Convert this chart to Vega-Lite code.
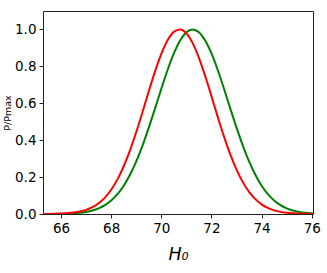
{
  "$schema": "https://vega.github.io/schema/vega-lite/v6.json",
  "autosize": {"type": "none"},
  "padding": {"left": 43, "top": 11, "right": 14, "bottom": 59},
  "width": 270,
  "height": 203,
  "config": {
    "view": {"stroke": "#222", "strokeWidth": 1},
    "axis": {
      "grid": false, "domain": false,
      "tickColor": "#222", "tickSize": 4, "tickWidth": 1,
      "labelFont": "DejaVu Sans", "labelFontSize": 13.5, "labelColor": "#000",
      "titleFont": "DejaVu Sans", "titleColor": "#000", "titleFontWeight": "normal"
    }
  },
  "datasets": {
    "curves": [
      {"x": 65.25, "p": 0.000133, "s": "green"}, {"x": 65.5, "p": 0.000275, "s": "green"}, {"x": 65.75, "p": 0.000553, "s": "green"}, {"x": 66.0, "p": 0.001077, "s": "green"}, {"x": 66.25, "p": 0.002032, "s": "green"}, {"x": 66.5, "p": 0.003717, "s": "green"}, {"x": 66.75, "p": 0.0066, "s": "green"}, {"x": 67.0, "p": 0.01135, "s": "green"}, {"x": 67.25, "p": 0.01892, "s": "green"}, {"x": 67.5, "p": 0.0306, "s": "green"}, {"x": 67.75, "p": 0.04795, "s": "green"}, {"x": 68.0, "p": 0.07287, "s": "green"}, {"x": 68.25, "p": 0.10735, "s": "green"}, {"x": 68.5, "p": 0.1533, "s": "green"}, {"x": 68.75, "p": 0.2123, "s": "green"}, {"x": 69.0, "p": 0.285, "s": "green"}, {"x": 69.25, "p": 0.3709, "s": "green"}, {"x": 69.5, "p": 0.4679, "s": "green"}, {"x": 69.75, "p": 0.5724, "s": "green"}, {"x": 70.0, "p": 0.6788, "s": "green"}, {"x": 70.25, "p": 0.7804, "s": "green"}, {"x": 70.5, "p": 0.8698, "s": "green"}, {"x": 70.75, "p": 0.9399, "s": "green"}, {"x": 71.0, "p": 0.9846, "s": "green"}, {"x": 71.25, "p": 1.0, "s": "green"}, {"x": 71.5, "p": 0.9846, "s": "green"}, {"x": 71.75, "p": 0.9399, "s": "green"}, {"x": 72.0, "p": 0.8698, "s": "green"}, {"x": 72.25, "p": 0.7804, "s": "green"}, {"x": 72.5, "p": 0.6788, "s": "green"}, {"x": 72.75, "p": 0.5724, "s": "green"}, {"x": 73.0, "p": 0.4679, "s": "green"}, {"x": 73.25, "p": 0.3709, "s": "green"}, {"x": 73.5, "p": 0.285, "s": "green"}, {"x": 73.75, "p": 0.2123, "s": "green"}, {"x": 74.0, "p": 0.1533, "s": "green"}, {"x": 74.25, "p": 0.10735, "s": "green"}, {"x": 74.5, "p": 0.07287, "s": "green"}, {"x": 74.75, "p": 0.04795, "s": "green"}, {"x": 75.0, "p": 0.0306, "s": "green"}, {"x": 75.25, "p": 0.01892, "s": "green"}, {"x": 75.5, "p": 0.01135, "s": "green"}, {"x": 75.75, "p": 0.0066, "s": "green"}, {"x": 76.0, "p": 0.003717, "s": "green"}, {"x": 76.25, "p": 0.002032, "s": "green"},
      {"x": 65.25, "p": 0.000272, "s": "red"}, {"x": 65.5, "p": 0.000567, "s": "red"}, {"x": 65.75, "p": 0.001141, "s": "red"}, {"x": 66.0, "p": 0.00222, "s": "red"}, {"x": 66.25, "p": 0.00416, "s": "red"}, {"x": 66.5, "p": 0.00755, "s": "red"}, {"x": 66.75, "p": 0.01324, "s": "red"}, {"x": 67.0, "p": 0.02244, "s": "red"}, {"x": 67.25, "p": 0.03676, "s": "red"}, {"x": 67.5, "p": 0.0581, "s": "red"}, {"x": 67.75, "p": 0.0889, "s": "red"}, {"x": 68.0, "p": 0.1313, "s": "red"}, {"x": 68.25, "p": 0.1875, "s": "red"}, {"x": 68.5, "p": 0.2587, "s": "red"}, {"x": 68.75, "p": 0.3448, "s": "red"}, {"x": 69.0, "p": 0.4441, "s": "red"}, {"x": 69.25, "p": 0.5527, "s": "red"}, {"x": 69.5, "p": 0.6648, "s": "red"}, {"x": 69.75, "p": 0.7725, "s": "red"}, {"x": 70.0, "p": 0.8674, "s": "red"}, {"x": 70.25, "p": 0.9412, "s": "red"}, {"x": 70.5, "p": 0.9868, "s": "red"}, {"x": 70.75, "p": 0.9998, "s": "red"}, {"x": 71.0, "p": 0.9787, "s": "red"}, {"x": 71.25, "p": 0.9258, "s": "red"}, {"x": 71.5, "p": 0.8463, "s": "red"}, {"x": 71.75, "p": 0.7475, "s": "red"}, {"x": 72.0, "p": 0.638, "s": "red"}, {"x": 72.25, "p": 0.5261, "s": "red"}, {"x": 72.5, "p": 0.4193, "s": "red"}, {"x": 72.75, "p": 0.3228, "s": "red"}, {"x": 73.0, "p": 0.2402, "s": "red"}, {"x": 73.25, "p": 0.1727, "s": "red"}, {"x": 73.5, "p": 0.12, "s": "red"}, {"x": 73.75, "p": 0.0806, "s": "red"}, {"x": 74.0, "p": 0.0523, "s": "red"}, {"x": 74.25, "p": 0.0328, "s": "red"}, {"x": 74.5, "p": 0.0198, "s": "red"}, {"x": 74.75, "p": 0.01161, "s": "red"}, {"x": 75.0, "p": 0.00657, "s": "red"}, {"x": 75.25, "p": 0.00359, "s": "red"}, {"x": 75.5, "p": 0.0019, "s": "red"}, {"x": 75.75, "p": 0.00097, "s": "red"}, {"x": 76.0, "p": 0.00048, "s": "red"}, {"x": 76.25, "p": 0.00023, "s": "red"}
    ]
  },
  "data": {"name": "curves"},
  "mark": {"type": "line", "strokeWidth": 2, "interpolate": "monotone", "clip": true},
  "encoding": {
    "x": {
      "field": "x", "type": "quantitative",
      "scale": {"domain": [65.28, 76.05], "nice": false, "zero": false},
      "axis": {"values": [66, 68, 70, 72, 74, 76], "format": "d", "labelPadding": 3,
               "title": "H₀", "titleFontSize": 17.5, "titleFontStyle": "italic", "titlePadding": 11}
    },
    "y": {
      "field": "p", "type": "quantitative",
      "scale": {"domain": [0, 1.1], "nice": false},
      "axis": {"values": [0, 0.2, 0.4, 0.6, 0.8, 1.0], "format": ".1f", "labelPadding": 3,
               "title": "P/Pmax", "titleFontSize": 9.5, "titlePadding": 2}
    },
    "color": {
      "field": "s", "type": "nominal",
      "scale": {"domain": ["green", "red"], "range": ["#008000", "#ff0000"]},
      "legend": null
    }
  }
}
